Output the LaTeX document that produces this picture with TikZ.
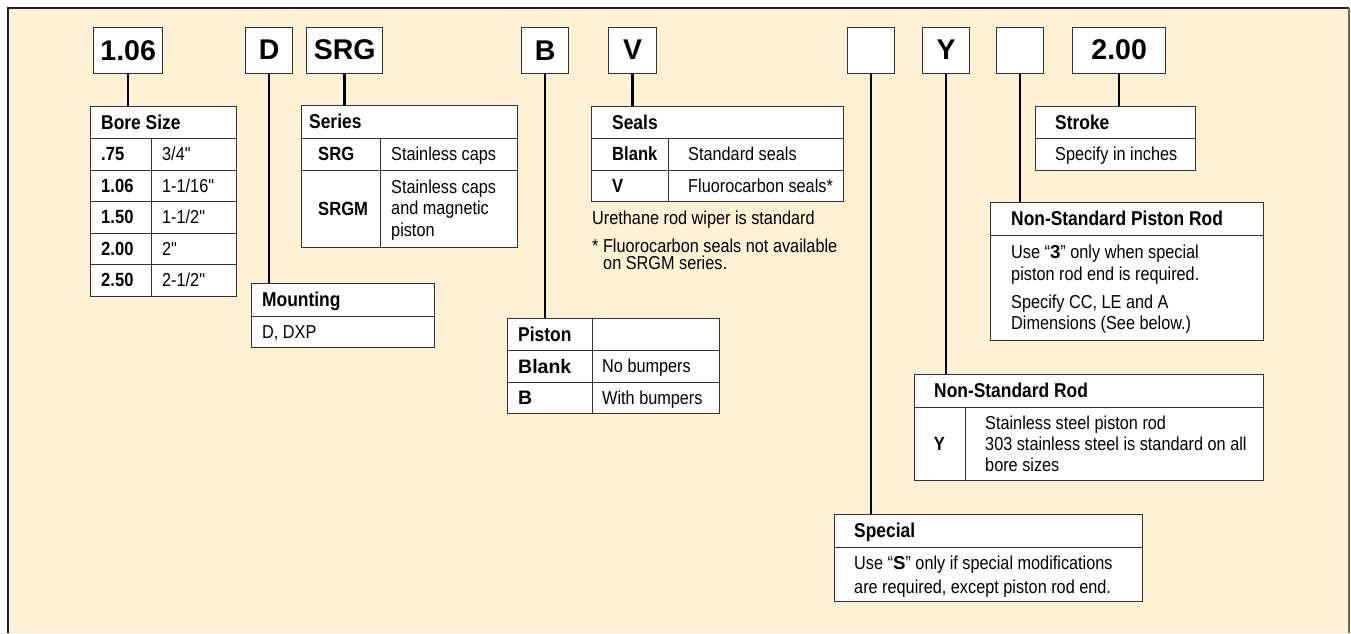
\documentclass[tikz,border=0pt]{standalone}
\usepackage{fontspec}
\setmainfont{Liberation Sans}
\newfontfamily\condf[FakeStretch=0.87]{Liberation Sans}
\newfontfamily\widef{Liberation Sans}
\definecolor{panel}{HTML}{FFF2D4}
\definecolor{rulec}{HTML}{333333}
\definecolor{edgec}{HTML}{222222}
\definecolor{edger}{HTML}{6B6A55}
\tikzset{
  codebox/.style={draw=rulec, line width=1.3pt, fill=white, inner sep=0pt, anchor=north west,
    minimum height=46pt, font=\widef\bfseries\fontsize{28.5}{31}\selectfont},
  tbl/.style={draw=rulec, line width=1pt, fill=white, inner sep=0pt, anchor=north west},
  tline/.style={draw=rulec, line width=1pt},
  link/.style={draw=black, line width=2.6pt},
  hd/.style={anchor=base west, inner sep=0pt, font=\condf\bfseries\fontsize{20}{23}\selectfont},
  kb/.style={anchor=base west, inner sep=0pt, font=\condf\bfseries\fontsize{19.1}{22}\selectfont},
  wb/.style={anchor=base west, inner sep=0pt, font=\widef\bfseries\fontsize{19.5}{23}\selectfont},
  bd/.style={anchor=base west, inner sep=0pt, font=\condf\fontsize{18.7}{22}\selectfont},
}
\begin{document}
\begin{tikzpicture}[x=1pt,y=-1pt]
\useasboundingbox (0,0) rectangle (1351,633);
% panel
\fill[panel] (8,8) rectangle (1349,633);
\draw[edgec, line width=1.3pt] (8,633) -- (8,8) -- (1349,8);
\draw[edger, line width=1.3pt] (1349,8) -- (1349,633);

% code boxes
\node[codebox, minimum width=69pt] (c106) at (93,27) {1.06};
\node[codebox, minimum width=47pt] (cD) at (245,26.5) {D};
\node[codebox, minimum width=76pt] (cSRG) at (306,26.5) {SRG};
\node[codebox, minimum width=47pt] (cB) at (521,27) {B};
\node[codebox, minimum width=48pt] (cV) at (608,26.5) {V};
\node[codebox, minimum width=47pt] (cS) at (847,26.5) {};
\node[codebox, minimum width=47pt] (cY) at (922,26.5) {Y};
\node[codebox, minimum width=47pt] (c3) at (996,27) {};
\node[codebox, minimum width=93pt] (c200) at (1072,26.5) {2.00};

% Bore Size table
\node[tbl, minimum width=146pt, minimum height=190pt] (bore) at (90,106) {};
\foreach \yy in {138,170,201,233,264} \draw[tline] (90,\yy) -- (236,\yy);
\draw[tline] (151,138) -- (151,296);
\node[hd] (boreh) at (101,129) {Bore Size};
\node[kb] (b1k) at (101,160.7) {.75};
\node[kb] (b2k) at (101,192.2) {1.06};
\node[kb] (b3k) at (101,223.7) {1.50};
\node[kb] (b4k) at (101,255.2) {2.00};
\node[kb] (b5k) at (101,286.7) {2.50};
\node[bd] (b1v) at (162,160.7) {3/4"};
\node[bd] (b2v) at (162,192.2) {1-1/16"};
\node[bd] (b3v) at (162,223.7) {1-1/2"};
\node[bd] (b4v) at (162,255.2) {2"};
\node[bd] (b5v) at (162,286.7) {2-1/2"};

% Series table
\node[tbl, minimum width=216pt, minimum height=142pt] (series) at (301,105) {};
\draw[tline] (301,138) -- (517,138);
\draw[tline] (301,170) -- (517,170);
\draw[tline] (380,138) -- (380,247);
\node[hd] (serh) at (309,128.5) {Series};
\node[kb] (s1k) at (318,160.7) {SRG};
\node[kb] (s2k) at (318,215.2) {SRGM};
\node[bd] (s1v) at (391,160.6) {Stainless caps};
\node[bd] (s2a) at (391,193.3) {Stainless caps};
\node[bd] (s2b) at (391,214.9) {and magnetic};
\node[bd] (s2c) at (391,236.6) {piston};

% Mounting table
\node[tbl, minimum width=183pt, minimum height=64pt] (mount) at (251,283) {};
\draw[tline] (251,316) -- (434,316);
\node[hd] (mnth) at (262,306.5) {Mounting};
\node[bd] (mntv) at (262,338.1) {D, DXP};

% Piston table
\node[tbl, minimum width=212pt, minimum height=95pt] (piston) at (507,318) {};
\draw[tline] (507,350) -- (719,350);
\draw[tline] (507,382) -- (719,382);
\draw[tline] (592,318) -- (592,413);
\node[hd] (pish) at (518,341) {Piston};
\node[wb] (p1k) at (518,373) {Blank};
\node[wb] (p2k) at (518,404.5) {B};
\node[bd] (p1v) at (602,372.6) {No bumpers};
\node[bd] (p2v) at (602,404.1) {With bumpers};

% Seals table
\node[tbl, minimum width=252pt, minimum height=95pt] (seals) at (591,106) {};
\draw[tline] (591,138) -- (843,138);
\draw[tline] (591,170) -- (843,170);
\draw[tline] (668,138) -- (668,201);
\node[hd] (seah) at (612,129) {Seals};
\node[kb] (e1k) at (612,160.7) {Blank};
\node[kb] (e2k) at (612,192.2) {V};
\node[bd] (e1v) at (688,160.6) {Standard seals};
\node[bd] (e2v) at (688,192.1) {Fluorocarbon seals*};
\node[bd] (n1) at (592,224.3) {Urethane rod wiper is standard};
\node[bd] (n2) at (592,252.6) {* Fluorocarbon seals not available};
\node[bd] (n3) at (603,269.6) {on SRGM series.};

% Stroke table
\node[tbl, minimum width=160pt, minimum height=64pt] (stroke) at (1035,106) {};
\draw[tline] (1035,138) -- (1195,138);
\node[hd] (strh) at (1055,129) {Stroke};
\node[bd] (strv) at (1055,160.6) {Specify in inches};

% Non-Standard Piston Rod
\node[tbl, minimum width=273pt, minimum height=138pt] (nspr) at (990,202) {};
\draw[tline] (990,235) -- (1263,235);
\node[hd] (nsprh) at (1011,225.5) {Non-Standard Piston Rod};
\node[bd] (r1) at (1011,258.6) {Use “{\widef\bfseries 3}” only when special};
\node[bd] (r2) at (1011,280.6) {piston rod end is required.};
\node[bd] (r3) at (1011,308.6) {Specify CC, LE and A};
\node[bd] (r4) at (1011,329.6) {Dimensions (See below.)};

% Non-Standard Rod
\node[tbl, minimum width=349pt, minimum height=106pt] (nsr) at (914,374) {};
\draw[tline] (914,407) -- (1263,407);
\draw[tline] (965,407) -- (965,480);
\node[hd] (nsrh) at (934,397.5) {Non-Standard Rod};
\node[kb, anchor=base] (yk) at (939.5,450.7) {Y};
\node[bd] (y1) at (985,429.6) {Stainless steel piston rod};
\node[bd] (y2) at (985,450.6) {303 stainless steel is standard on all};
\node[bd] (y3) at (985,471.6) {bore sizes};

% Special
\node[tbl, minimum width=308pt, minimum height=87pt] (special) at (834,514) {};
\draw[tline] (834,547) -- (1142,547);
\node[hd] (sph) at (854,537.5) {Special};
\node[bd] (sp1) at (854,569.6) {Use “{\widef\bfseries S}” only if special modifications};
\node[bd] (sp2) at (854,593.6) {are required, except piston rod end.};

% connectors
\draw[link] (c106.south) -- (c106.south |- bore.north);
\draw[link] (cD.south) -- (cD.south |- mount.north);
\draw[link] (cSRG.south) -- (cSRG.south |- series.north);
\draw[link] (cB.south) -- (cB.south |- piston.north);
\draw[link] (cV.south) -- (cV.south |- seals.north);
\draw[link] (cS.south) -- (cS.south |- special.north);
\draw[link] (cY.south) -- (cY.south |- nsr.north);
\draw[link] (c3.south) -- (c3.south |- nspr.north);
\draw[link] (c200.south) -- (c200.south |- stroke.north);
\end{tikzpicture}
\end{document}
